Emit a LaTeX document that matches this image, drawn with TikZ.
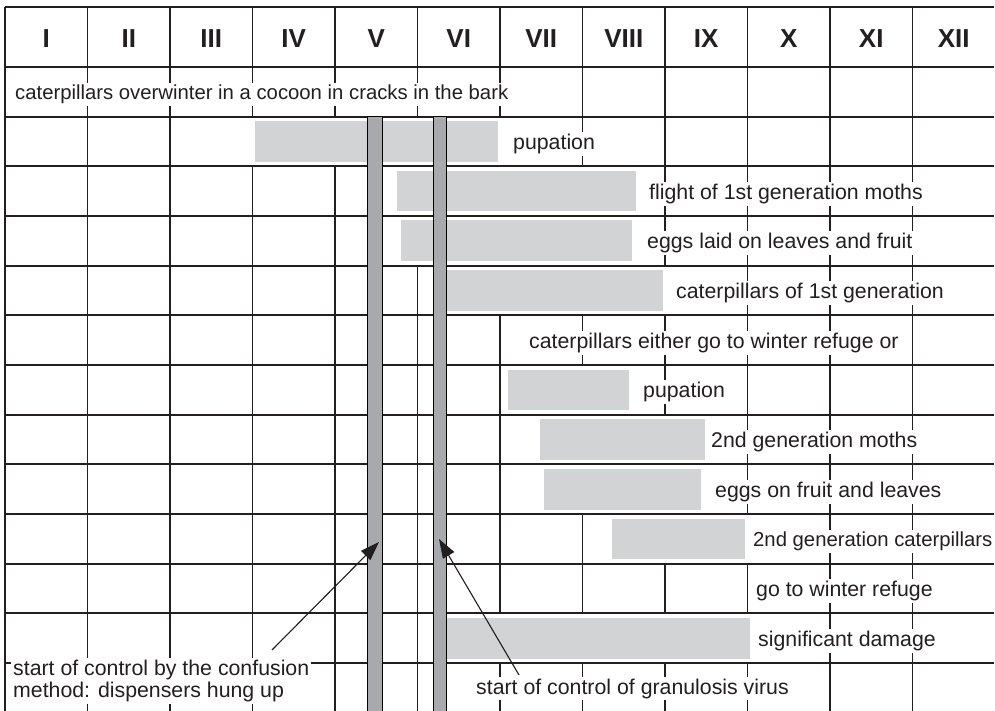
\documentclass[tikz,border=0pt]{standalone}
\usepackage{fontspec}
\setmainfont{Liberation Sans}
\usepackage{xcolor}
\usetikzlibrary{arrows.meta}

\definecolor{ink}{HTML}{231F20}
\definecolor{barlight}{HTML}{D1D3D4}
\definecolor{bardark}{HTML}{A7A9AC}

\begin{document}
\begin{tikzpicture}[
    x=1pt, y=-1pt,
    gridline/.style={draw=ink, line width=1.8pt},
    frameline/.style={draw=ink, line width=2.6pt},
    month/.style={anchor=base, inner sep=0pt, text=ink, font=\fontsize{26}{30}\selectfont\bfseries},
    stage/.style={anchor=base west, fill=white, inner sep=2pt, text=ink, font=\fontsize{21.3}{22}\selectfont},
    tight/.style={font=\fontsize{20.3}{22}\selectfont},
    lightbar/.style={fill=barlight, draw=white, line width=4pt},
    darkbar/.style={fill=bardark},
    pointer/.style={-{Triangle[length=19pt,width=13pt]}, line width=1.1pt, draw=ink, fill=ink}
]
\useasboundingbox (0,0) rectangle (995,711);

% Month columns
\foreach \k in {0,...,11}
    \draw[gridline] (5+82.5*\k,7) -- (5+82.5*\k,712);
\foreach \m [count=\i] in {I,II,III,IV,V,VI,VII,VIII,IX,X,XI,XII}
    \node[month] (m\i) at ({5+82.5*(\i-0.5)},48) {\m};

% Light bars: duration of each stage
\draw[lightbar] (253,119.2) rectangle (500,163.8);
\draw[lightbar] (395,168.8) rectangle (638,213.5);
\draw[lightbar] (399,218.5) rectangle (634,263.2);
\draw[lightbar] (443,268.2) rectangle (665,312.8);
\draw[lightbar] (506,367.5) rectangle (631,412.2);
\draw[lightbar] (538,417.2) rectangle (707,461.8);
\draw[lightbar] (542,466.8) rectangle (703,511.5);
\draw[lightbar] (610,516.5) rectangle (747,561.2);
\draw[lightbar] (443,615.8) rectangle (752,660.5);

% Rows
\draw[frameline] (5,7) -- (994,7);
\draw[frameline] (5,67) -- (994,67);
\foreach \r in {1,...,12}
    \draw[gridline] (5,67+49.67*\r) -- (994,67+49.67*\r);

% Stage labels
\node[stage, tight] (overwinter) at (13,99.8) {caterpillars overwinter in a cocoon in cracks in the bark};
\node[stage] (pupationA) at (511,149.5) {pupation};
\node[stage] (flightA) at (647,199.1) {flight of 1st generation moths};
\node[stage] (eggsA) at (645,248.8) {eggs laid on leaves and fruit};
\node[stage] (larvaeA) at (674,298.5) {caterpillars of 1st generation};
\node[stage] (either) at (527,348.2) {caterpillars either go to winter refuge or};
\node[stage] (pupationB) at (641,397.8) {pupation};
\node[stage] (flightB) at (709,447.5) {2nd generation moths};
\node[stage] (eggsB) at (713,497.2) {eggs on fruit and leaves};
\node[stage, tight] (larvaeB) at (751,546.8) {2nd generation caterpillars};
\node[stage] (refuge) at (754,596.5) {go to winter refuge};
\node[stage] (damage) at (756,646.2) {significant damage};

% Control measures
\node[stage, anchor=north west, align=left] (confusion) at (11,658)
    {start of control by the confusion\\method: dispensers hung up};
\node[stage] (granulosis) at (474,694) {start of control of granulosis virus};

\draw[darkbar] (367,116.67) rectangle (382,712);
\draw[darkbar] (433,116.67) rectangle (446,712);

% Arrows to the start lines
\coordinate (confFrom) at (272,650);
\coordinate (confTo) at (379,542);
\coordinate (granFrom) at (519,675);
\coordinate (granTo) at (439,539);
\draw[pointer] (confFrom) -- (confTo);
\draw[pointer] (granFrom) -- (granTo);

\end{tikzpicture}
\end{document}
